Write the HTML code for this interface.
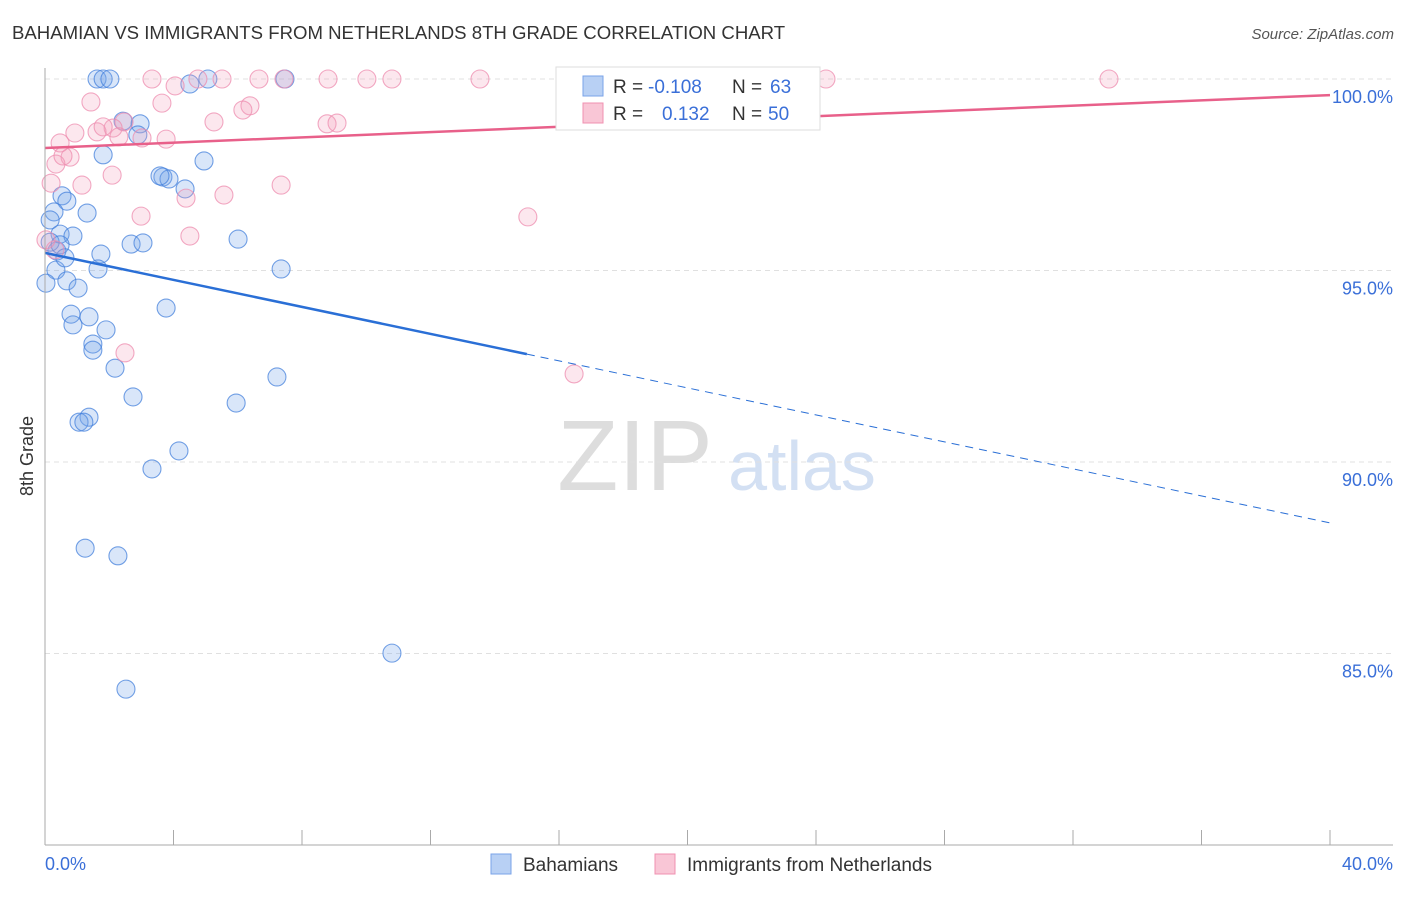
<!DOCTYPE html>
<html><head><meta charset="utf-8"><style>
body{margin:0;background:#fff;font-family:"Liberation Sans",sans-serif;}
svg text{font-family:"Liberation Sans",sans-serif;}
</style></head><body>
<svg id="c" width="1406" height="892" xmlns="http://www.w3.org/2000/svg">
<text x="12" y="39" font-size="18.6" fill="#333">BAHAMIAN VS IMMIGRANTS FROM NETHERLANDS 8TH GRADE CORRELATION CHART</text>
<text x="1394" y="39" font-size="15" fill="#555" font-style="italic" text-anchor="end">Source: ZipAtlas.com</text>
<text x="33" y="456" font-size="18" fill="#333" transform="rotate(-90 33 456)" text-anchor="middle">8th Grade</text>
<g><text x="635" y="490" font-size="100" fill="#ddd" font-family="Liberation Serif" text-anchor="middle">ZIP</text><text x="802" y="490" font-size="70" fill="#d3e0f3" text-anchor="middle">atlas</text></g>
<g id="grid"></g><g id="pts"></g><g id="lines"></g>
<line x1="45" y1="68" x2="45" y2="845" stroke="#aaa"/>
<line x1="45" y1="845" x2="1393" y2="845" stroke="#aaa"/>
<text x="45" y="870" font-size="18" fill="#3a6fd8">0.0%</text>
<text x="1393" y="870" font-size="18" fill="#3a6fd8" text-anchor="end">40.0%</text>
<g>
<rect x="556" y="67" width="264" height="63" fill="#fff" stroke="#ddd"/>
<rect x="583" y="76" width="20" height="20" fill="#b8d0f4" stroke="#7aa3e8"/>
<rect x="583" y="103" width="20" height="20" fill="#f9c6d6" stroke="#f090b0"/>
<text x="613" y="93" font-size="19" fill="#333">R =</text>
<text x="648" y="93" font-size="19" fill="#3a6fd8">-0.108</text>
<text x="732" y="93" font-size="19" fill="#333">N =</text>
<text x="770" y="93" font-size="19" fill="#3a6fd8">63</text>
<text x="613" y="120" font-size="19" fill="#333">R =</text>
<text x="662" y="120" font-size="19" fill="#3a6fd8">0.132</text>
<text x="732" y="120" font-size="19" fill="#333">N =</text>
<text x="768" y="120" font-size="19" fill="#3a6fd8">50</text>
</g>
<g>
<rect x="491" y="854" width="20" height="20" fill="#b8d0f4" stroke="#7aa3e8"/>
<text x="523" y="871" font-size="19" fill="#333">Bahamians</text>
<rect x="655" y="854" width="20" height="20" fill="#f9c6d6" stroke="#f090b0"/>
<text x="687" y="871" font-size="19" fill="#333">Immigrants from Netherlands</text>
</g>
</svg>
<script>
const yTicks=[100,95,90,85];
const yTickLabels=["100.0%","95.0%","90.0%","85.0%"];
const xTickVals=[0,4,8,12,16,20,24,28,32,36,40];
const blueX=[1.62,1.81,2.02,4.51,5.07,7.47,2.43,2.96,2.89,1.81,4.95,3.67,3.86,4.36,0.53,0.68,0.28,1.31,0.16,0.47,0.87,2.68,3.05,6.01,0.37,1.74,7.35,0.34,1.65,0.03,0.68,1.03,3.77,0.81,1.37,0.87,1.90,1.49,1.49,2.18,7.22,2.74,5.95,1.37,1.06,1.21,4.17,3.33,1.25,2.27,10.80,2.52,0.16,0.47,0.62,3.58];
const blueY=[100,100,100,99.87,100,100,98.90,98.83,98.54,98.02,97.86,97.44,97.39,97.13,96.95,96.81,96.53,96.50,96.32,95.95,95.90,95.69,95.72,95.82,95.51,95.43,95.04,95.01,95.04,94.67,94.73,94.54,94.02,93.86,93.79,93.58,93.45,93.08,92.92,92.45,92.22,91.70,91.54,91.17,91.04,91.04,90.29,89.82,87.75,87.55,85.01,84.07,95.74,95.67,95.33,97.47];
const pinkX=[3.33,4.76,5.51,6.66,8.81,10.02,10.80,13.54,24.31,33.12,7.44,4.05,1.43,3.64,6.38,6.16,2.46,5.26,2.12,0.93,8.78,9.09,2.30,3.02,3.77,0.47,1.62,0.78,0.34,0.56,2.09,1.15,0.19,5.57,4.39,7.35,2.99,15.03,4.51,0.31,0.03,2.49,16.47,1.81];
const pinkY=[100,100,100,100,100,100,100,100,100,100,100,99.82,99.40,99.37,99.30,99.19,98.88,98.88,98.72,98.59,98.83,98.85,98.49,98.46,98.43,98.33,98.62,97.96,97.78,97.99,97.49,97.23,97.28,96.97,96.89,97.23,96.42,96.40,95.90,95.54,95.80,92.85,92.30,98.75];
const blueTrend=[95.46,88.41]; const blueSolidEnd=15.0;
const pinkTrend=[98.20,99.58];
const X=v=>45+v*32.125, Y=v=>79+(100-v)*38.3;
const NS="http://www.w3.org/2000/svg";
function mk(t,a,p){const e=document.createElementNS(NS,t);for(const k in a)e.setAttribute(k,a[k]);p.appendChild(e);return e;}
const g=document.getElementById('grid');
yTicks.forEach((t,i)=>{
 const l=mk('line',{x1:45,x2:1393,y1:Y(t),y2:Y(t),stroke:'#e0e0e0','stroke-dasharray':'5,4'},g);
 
 
 const tx=mk('text',{x:1393,y:Y(t)+24,'font-size':18,fill:'#3a6fd8','text-anchor':'end'},g);
 tx.textContent=yTickLabels[i];
 
 
});
xTickVals.forEach(t=>{
 const l=mk('line',{x1:X(t),x2:X(t),y1:830,y2:845,stroke:'#aaa'},g);
 
 
});
const p=document.getElementById('pts');
blueX.forEach((x,i)=>{
 const c=mk('circle',{cx:X(x),cy:Y(blueY[i]),r:9,fill:'rgba(120,165,235,0.28)',stroke:'rgba(70,130,220,0.75)','stroke-width':1.1},p);
 
 
});
pinkX.forEach((x,i)=>{
 const c=mk('circle',{cx:X(x),cy:Y(pinkY[i]),r:9,fill:'rgba(245,160,188,0.25)',stroke:'rgba(238,140,175,0.75)','stroke-width':1.1},p);
 
 
});
const L=document.getElementById('lines');
const by=x=>blueTrend[0]+(blueTrend[1]-blueTrend[0])*x/40;
let l1=mk('line',{x1:X(0),y1:Y(by(0)),x2:X(blueSolidEnd),y2:Y(by(blueSolidEnd)),stroke:'#2a6fd6','stroke-width':2.5},L);


let l2=mk('line',{x1:X(blueSolidEnd),y1:Y(by(blueSolidEnd)),x2:X(40),y2:Y(by(40)),stroke:'#2a6fd6','stroke-width':1,'stroke-dasharray':'8,6'},L);


let l3=mk('line',{x1:X(0),y1:Y(pinkTrend[0]),x2:X(40),y2:Y(pinkTrend[1]),stroke:'#e8608a','stroke-width':2.5},L);


</script>
</body></html>
